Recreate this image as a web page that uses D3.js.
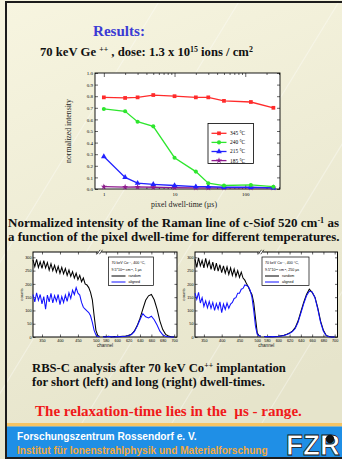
<!DOCTYPE html>
<html>
<head>
<meta charset="utf-8">
<script src="https://cdnjs.cloudflare.com/ajax/libs/d3/7.8.5/d3.min.js"></script>
<style>
  body { margin: 0; background: #fff; }
  svg { display: block; }
</style>
</head>
<body>
<div id="chart"></div>
<script>
// Raman line of c-Si (520 cm-1) vs pixel dwell-time
const dwellTimes = [1, 2, 3, 5, 10, 20, 30, 50, 120, 250];
const tempLabels = ['345 °C', '240 °C', '215 °C', '185 °C'];
const int345 = [0.79, 0.785, 0.79, 0.81, 0.80, 0.79, 0.79, 0.76, 0.75, 0.70];
const int240 = [0.69, 0.67, 0.58, 0.54, 0.27, 0.15, 0.05, 0.03, 0.035, 0.02];
const int215 = [0.28, 0.10, 0.05, 0.04, 0.03, 0.02, 0.02, 0.015, 0.015, 0.01];
const int185 = [0.02, 0.017, 0.018, 0.015, 0.012, 0.01, 0.01, 0.01, 0.01, 0.01];
const ramanYTicks = [0, 0.1, 0.2, 0.3, 0.4, 0.5, 0.6, 0.7, 0.8, 0.9, 1.0];
const ramanXTicks = [1, 10, 100];
const ramanXMinor = [2, 3, 4, 5, 6, 7, 8, 9, 20, 30, 40, 50, 60, 70, 80, 90, 200, 300];

// RBS-C spectra, two channel windows (axis is broken between them)
const chanLow = [325, 330, 335, 340, 345, 350, 355, 360, 365, 370, 375, 380, 385, 390, 395, 400, 405, 410, 415,
    420, 425, 430, 435, 440, 445, 450, 455, 460, 465, 470, 475, 480, 485, 490, 495, 500, 505, 510];
const chanHigh = [575, 580, 585, 590, 595, 600, 605, 610, 615, 620, 625, 630, 635, 640, 645, 650, 655, 660, 665,
    670, 675, 680, 685, 690, 695, 700];

// short dwell-time (1 µs)
const shortRandomLow = [290, 265, 292, 262, 283, 258, 288, 260, 280, 252, 276, 250, 270, 244, 266, 240, 262, 238, 258,
    232, 252, 228, 246, 222, 240, 216, 232, 208, 222, 200, 196, 186, 168, 140, 80, 25, 6, 2];
const shortAlignedLow = [160, 132, 166, 138, 160, 125, 152, 105, 158, 132, 164, 128, 156, 135, 160, 122, 152, 130, 158,
    134, 166, 145, 176, 160, 186, 165, 158, 130, 112, 105, 98, 92, 80, 55, 25, 8, 2, 1];
const shortRandomHigh = [2, 1, 3, 0, 2, 1, 2, 3, 4, 6, 10, 22, 42, 70, 105, 138, 155, 160, 140, 105, 60, 28, 10, 4, 1, 0];
const shortAlignedHigh = [1, 0, 2, 1, 0, 2, 1, 2, 3, 5, 9, 20, 40, 65, 88, 76, 72, 78, 65, 45, 22, 8, 3, 1, 0, 0];

// long dwell-time (250 µs)
const longRandomLow = [292, 262, 298, 268, 288, 260, 296, 265, 286, 255, 282, 250, 278, 248, 272, 242, 268, 240, 264,
    236, 260, 232, 256, 228, 250, 224, 244, 222, 214, 200, 188, 172, 160, 130, 70, 15, 5, 3];
const longAlignedLow = [165, 142, 168, 128, 148, 115, 136, 110, 134, 108, 130, 100, 126, 105, 132, 92, 124, 104, 128,
    108, 124, 130, 145, 148, 165, 165, 180, 183, 196, 194, 190, 176, 150, 100, 40, 10, 5, 3];
const longRandomHigh = [2, 1, 2, 1, 2, 3, 5, 7, 10, 15, 22, 35, 60, 95, 130, 160, 180, 168, 150, 110, 60, 25, 6, 2, 0, 0];
const longAlignedHigh = [1, 2, 1, 2, 1, 2, 4, 6, 9, 14, 20, 32, 55, 90, 125, 155, 172, 170, 148, 105, 55, 22, 5, 1, 0, 0];

const rbsYTicks = [0, 50, 100, 150, 200, 250, 300];
const rbsXTicks = [350, 400, 450, 500, 580, 600, 620, 640, 660, 680, 700];

const W = 342, H = 459;
const serif = "'Liberation Serif', 'Times New Roman', serif";
const sans = "'Liberation Sans', Arial, sans-serif";

const svg = d3.select('#chart').append('svg').attr('width', W).attr('height', H);

// page background
const grad = svg.append('defs').append('linearGradient').attr('id', 'bg')
    .attr('x1', 0).attr('y1', 0).attr('x2', 0.3).attr('y2', 1);
grad.append('stop').attr('offset', '0%').attr('stop-color', '#f7f5e0');
grad.append('stop').attr('offset', '100%').attr('stop-color', '#e6e4cb');
svg.append('rect').attr('width', W).attr('height', H).attr('fill', 'url(#bg)');
[-120, -40, 60, 150, 240, 330].forEach(s => {
    svg.append('line').attr('x1', s).attr('y1', H).attr('x2', s + 280).attr('y2', 0)
        .attr('stroke', '#ffffff').attr('stroke-opacity', 0.35).attr('stroke-width', 1.2);
});

// frame
svg.append('rect').attr('x', 5).attr('y', 1).attr('width', 2).attr('height', H - 1).attr('fill', '#1c1c1c');
svg.append('rect').attr('x', 5).attr('y', 1).attr('width', W - 5).attr('height', 2).attr('fill', '#1c1c1c');
svg.append('rect').attr('x', 5).attr('y', 457).attr('width', W - 5).attr('height', 2).attr('fill', '#1c1c1c');

function richText(x, y, parts, size, color, family, weight) {
    const t = svg.append('text').attr('x', x).attr('y', y)
        .attr('font-family', family).attr('font-size', size)
        .attr('font-weight', weight).attr('fill', color);
    parts.forEach(p => {
        const s = t.append('tspan').text(p[0]);
        if (p[1]) s.attr('font-size', '0.62em').attr('baseline-shift', 'super');
    });
    return t;
}
function fitWidth(t, w) {
    const len = t.node().getComputedTextLength();
    t.attr('font-size', parseFloat(t.attr('font-size')) * w / len);
    return t;
}

// headings
fitWidth(richText(93, 36, [['Results:']], 14, '#3b3bd4', serif, 'bold'), 52);
fitWidth(richText(40, 56, [['70 keV Ge '], ['++', 1], [' , dose: 1.3 x 10'], ['15', 1], [' ions / cm'], ['2', 1]],
    12, '#111', serif, 'bold'), 213);

// ---- Raman chart ----
const rm = {left: 95, right: 280, top: 73, bottom: 189};
const rx = d3.scaleLog().domain([0.75, 310]).range([rm.left, rm.right]);
const ry = d3.scaleLinear().domain([0, 1]).range([rm.bottom, rm.top]);
const raman = svg.append('g');
raman.append('rect').attr('x', rm.left).attr('y', rm.top)
    .attr('width', rm.right - rm.left).attr('height', rm.bottom - rm.top).attr('fill', '#fff');

function styleAxis(g, size, family) {
    g.select('.domain').remove();
    g.selectAll('line').attr('stroke', '#000').attr('stroke-width', 0.6);
    g.selectAll('text').attr('font-size', size).attr('font-family', family).attr('fill', '#000');
}
raman.append('g').attr('transform', `translate(${rm.left},0)`)
    .call(d3.axisLeft(ry).tickValues(ramanYTicks).tickFormat(d3.format('.1f')).tickSizeInner(-3).tickSizeOuter(0).tickPadding(2))
    .call(g => styleAxis(g, 5, serif));
raman.append('g').attr('transform', `translate(${rm.right},0)`)
    .call(d3.axisRight(ry).tickValues(ramanYTicks).tickFormat('').tickSizeInner(-3).tickSizeOuter(0))
    .call(g => styleAxis(g, 5, serif));
raman.append('g').attr('transform', `translate(0,${rm.bottom})`)
    .call(d3.axisBottom(rx).tickValues(ramanXTicks).tickFormat(d3.format('d')).tickSizeInner(-4).tickSizeOuter(0).tickPadding(3))
    .call(g => styleAxis(g, 5, serif));
raman.append('g').attr('transform', `translate(0,${rm.bottom})`)
    .call(d3.axisBottom(rx).tickValues(ramanXMinor).tickFormat('').tickSizeInner(-2).tickSizeOuter(0))
    .call(g => styleAxis(g, 5, serif));
raman.append('g').attr('transform', `translate(0,${rm.top})`)
    .call(d3.axisTop(rx).tickValues(ramanXTicks).tickFormat('').tickSizeInner(-4).tickSizeOuter(0))
    .call(g => styleAxis(g, 5, serif));
raman.append('g').attr('transform', `translate(0,${rm.top})`)
    .call(d3.axisTop(rx).tickValues(ramanXMinor).tickFormat('').tickSizeInner(-2).tickSizeOuter(0))
    .call(g => styleAxis(g, 5, serif));
raman.append('rect').attr('x', rm.left).attr('y', rm.top)
    .attr('width', rm.right - rm.left).attr('height', rm.bottom - rm.top)
    .attr('fill', 'none').attr('stroke', '#000').attr('stroke-width', 0.9);

const ramanSeries = [
    {name: tempLabels[0], vals: int345, color: '#ff2b2b', shape: d3.symbolSquare, size: 14},
    {name: tempLabels[1], vals: int240, color: '#2ee62e', shape: d3.symbolCircle, size: 13},
    {name: tempLabels[2], vals: int215, color: '#2222ff', shape: d3.symbolTriangle, size: 14},
    {name: tempLabels[3], vals: int185, color: '#8e1a8e', shape: d3.symbolStar, size: 12}
];
const rline = d3.line().x(d => rx(d[0])).y(d => ry(d[1]));
ramanSeries.slice().reverse().forEach(s => {
    const pts = dwellTimes.map((t, i) => [t, s.vals[i]]);
    raman.append('path').datum(pts).attr('d', rline)
        .attr('fill', 'none').attr('stroke', s.color).attr('stroke-width', 1.3);
    raman.selectAll(null).data(pts).enter().append('path')
        .attr('transform', d => `translate(${rx(d[0])},${ry(d[1])})`)
        .attr('d', d3.symbol(s.shape, s.size)).attr('fill', s.color);
});

// legend
const lg = raman.append('g').attr('transform', 'translate(208,123.5)');
lg.append('rect').attr('width', 45.5).attr('height', 40).attr('fill', '#fff')
    .attr('stroke', '#000').attr('stroke-width', 0.8);
ramanSeries.forEach((s, i) => {
    const yy = 9.8 + i * 9.1;
    lg.append('line').attr('x1', 3.5).attr('x2', 18.5).attr('y1', yy).attr('y2', yy)
        .attr('stroke', s.color).attr('stroke-width', 1.3);
    lg.append('path').attr('transform', `translate(11,${yy})`).attr('d', d3.symbol(s.shape, s.size)).attr('fill', s.color);
    lg.append('text').attr('x', 22).attr('y', yy + 1.9).text(s.name)
        .attr('font-family', serif).attr('font-size', 5.4).attr('fill', '#000');
});

raman.append('text').attr('transform', `translate(71,${(rm.top + rm.bottom) / 2}) rotate(-90)`)
    .attr('text-anchor', 'middle').attr('font-family', serif).attr('font-size', 7.8).attr('fill', '#222')
    .text('normalized intensity');
raman.append('text').attr('x', 184).attr('y', 207).attr('text-anchor', 'middle')
    .attr('font-family', serif).attr('font-size', 7.8).attr('fill', '#222').text('pixel dwell-time (µs)');

// caption
fitWidth(richText(8, 227, [['Normalized intensity of the Raman line of c-Siof 520 cm'], ['-1', 1], [' as']],
    12, '#111', serif, 'bold'), 331);
fitWidth(richText(8, 240.5, [['a function of the pixel dwell-time for different temperatures.']],
    12, '#111', serif, 'bold'), 332);

// ---- RBS-C spectra ----
function drawRbs(x0, x1, rLow, aLow, rHigh, aHigh, legX, legW, dwell) {
    const top = 252, bottom = 337, w = x1 - x0;
    const x = d3.scaleLinear().domain([325, 510, 570, 705])
        .range([x0, x0 + 0.462 * w, x0 + 0.466 * w, x1]);
    const y = d3.scaleLinear().domain([0, 320]).range([bottom, top]);
    const g = svg.append('g');
    g.append('rect').attr('x', x0).attr('y', top).attr('width', w).attr('height', bottom - top).attr('fill', '#fff');

    g.append('g').attr('transform', `translate(${x0},0)`)
        .call(d3.axisLeft(y).tickValues(rbsYTicks).tickSizeInner(-2.5).tickSizeOuter(0).tickPadding(1.5))
        .call(a => styleAxis(a, 3.8, sans));
    g.append('g').attr('transform', `translate(${x1},0)`)
        .call(d3.axisRight(y).tickValues(rbsYTicks).tickFormat('').tickSizeInner(-2.5).tickSizeOuter(0))
        .call(a => styleAxis(a, 3.8, sans));
    g.append('g').attr('transform', `translate(0,${bottom})`)
        .call(d3.axisBottom(x).tickValues(rbsXTicks).tickSizeInner(-2.5).tickSizeOuter(0).tickPadding(2.5))
        .call(a => styleAxis(a, 3.8, sans));
    g.append('g').attr('transform', `translate(0,${top})`)
        .call(d3.axisTop(x).tickValues(rbsXTicks).tickFormat('').tickSizeInner(-2.5).tickSizeOuter(0))
        .call(a => styleAxis(a, 3.8, sans));
    g.append('rect').attr('x', x0).attr('y', top).attr('width', w).attr('height', bottom - top)
        .attr('fill', 'none').attr('stroke', '#000').attr('stroke-width', 1);

    // break mark on top axis
    const bx = x(540);
    g.append('rect').attr('x', bx - 1.5).attr('y', top - 1).attr('width', 3).attr('height', 2).attr('fill', '#fff');
    [-1.2, 1.2].forEach(o => g.append('line').attr('x1', bx + o - 1.5).attr('y1', top + 2.2)
        .attr('x2', bx + o + 1.5).attr('y2', top - 2.2).attr('stroke', '#000').attr('stroke-width', 0.7));

    const line = d3.line().x(d => x(d[0])).y(d => y(d[1]));
    [[rLow, rHigh, '#000'], [aLow, aHigh, '#1212ff']].forEach(([lo, hi, c]) => {
        g.append('path').datum(chanLow.map((ch, i) => [ch, lo[i]])).attr('d', line)
            .attr('fill', 'none').attr('stroke', c).attr('stroke-width', 1.05);
        g.append('path').datum(chanHigh.map((ch, i) => [ch, hi[i]])).attr('d', line)
            .attr('fill', 'none').attr('stroke', c).attr('stroke-width', 1.05);
    });

    // legend
    const lg = g.append('g').attr('transform', `translate(${legX},257)`);
    lg.append('rect').attr('width', legW).attr('height', 28.5).attr('fill', '#fff')
        .attr('stroke', '#000').attr('stroke-width', 0.7);
    const lt = (yy, parts) => {
        const t = lg.append('text').attr('x', 3).attr('y', yy).attr('font-family', sans)
            .attr('font-size', 3.6).attr('fill', '#000');
        parts.forEach(p => {
            const s = t.append('tspan').text(p[0]);
            if (p[1]) s.attr('font-size', '0.7em').attr('baseline-shift', 'super');
        });
    };
    lt(6.5, [['70 keV Co'], ['++', 1], [', 400 °C,']]);
    lt(14, [['9.5*10'], ['15', 1], [' cm'], ['-2', 1], [', ' + dwell]]);
    [['random', '#000'], ['aligned', '#1212ff']].forEach(([n, c], i) => {
        const yy = 19 + i * 6;
        lg.append('line').attr('x1', 3).attr('x2', 17).attr('y1', yy).attr('y2', yy)
            .attr('stroke', c).attr('stroke-width', 1);
        lg.append('text').attr('x', 20).attr('y', yy + 1.3).text(n)
            .attr('font-family', sans).attr('font-size', 3.6).attr('fill', '#000');
    });

    g.append('text').attr('transform', `translate(${x0 - 10},${(top + bottom) / 2}) rotate(-90)`)
        .attr('text-anchor', 'middle').attr('font-family', sans).attr('font-size', 4.2).attr('fill', '#222')
        .text('counts');
    g.append('text').attr('x', (x0 + x1) / 2).attr('y', 347).attr('text-anchor', 'middle')
        .attr('font-family', sans).attr('font-size', 4.6).attr('fill', '#222').text('channel');
}
drawRbs(33, 177, shortRandomLow, shortAlignedLow, shortRandomHigh, shortAlignedHigh, 108.5, 45, '1 µs');
drawRbs(195, 337.5, longRandomLow, longAlignedLow, longRandomHigh, longAlignedHigh, 262, 47, '250 µs');

fitWidth(richText(32, 372, [['RBS-C analysis after 70 keV Co'], ['++', 1], [' implantation']],
    12, '#111', serif, 'bold'), 254);
fitWidth(richText(32, 386, [['for short (left) and long (right) dwell-times.']], 12, '#111', serif, 'bold'), 233);
fitWidth(richText(35, 416, [['The relaxation-time lies in the\u00a0 µs - range.']], 14, '#f01a1a', serif, 'bold'), 267);

// footer
svg.append('rect').attr('x', 7).attr('y', 423).attr('width', W - 7).attr('height', 3.5).attr('fill', '#f6c463');
svg.append('rect').attr('x', 7).attr('y', 426.5).attr('width', W - 7).attr('height', 30.5).attr('fill', '#1f8fe6');
fitWidth(richText(17, 439.5, [['Forschungszentrum Rossendorf e. V.']], 9.5, '#ffffff', sans, 'bold'), 180);
fitWidth(richText(17, 453.5, [['Institut für Ionenstrahlphysik und Materialforschung']], 9, '#f3a93c', sans, 'bold'), 251);

// FZR logo
svg.append('text').attr('x', 286).attr('y', 454.5).attr('font-family', sans)
    .attr('font-weight', 'bold').attr('font-size', 29).attr('fill', '#fff')
    .attr('stroke', '#111').attr('stroke-width', 0.8)
    .attr('textLength', 54).attr('lengthAdjust', 'spacingAndGlyphs').text('FZR');
svg.append('circle').attr('cx', 330).attr('cy', 439).attr('r', 4.2).attr('fill', '#111');
</script>
</body>
</html>
